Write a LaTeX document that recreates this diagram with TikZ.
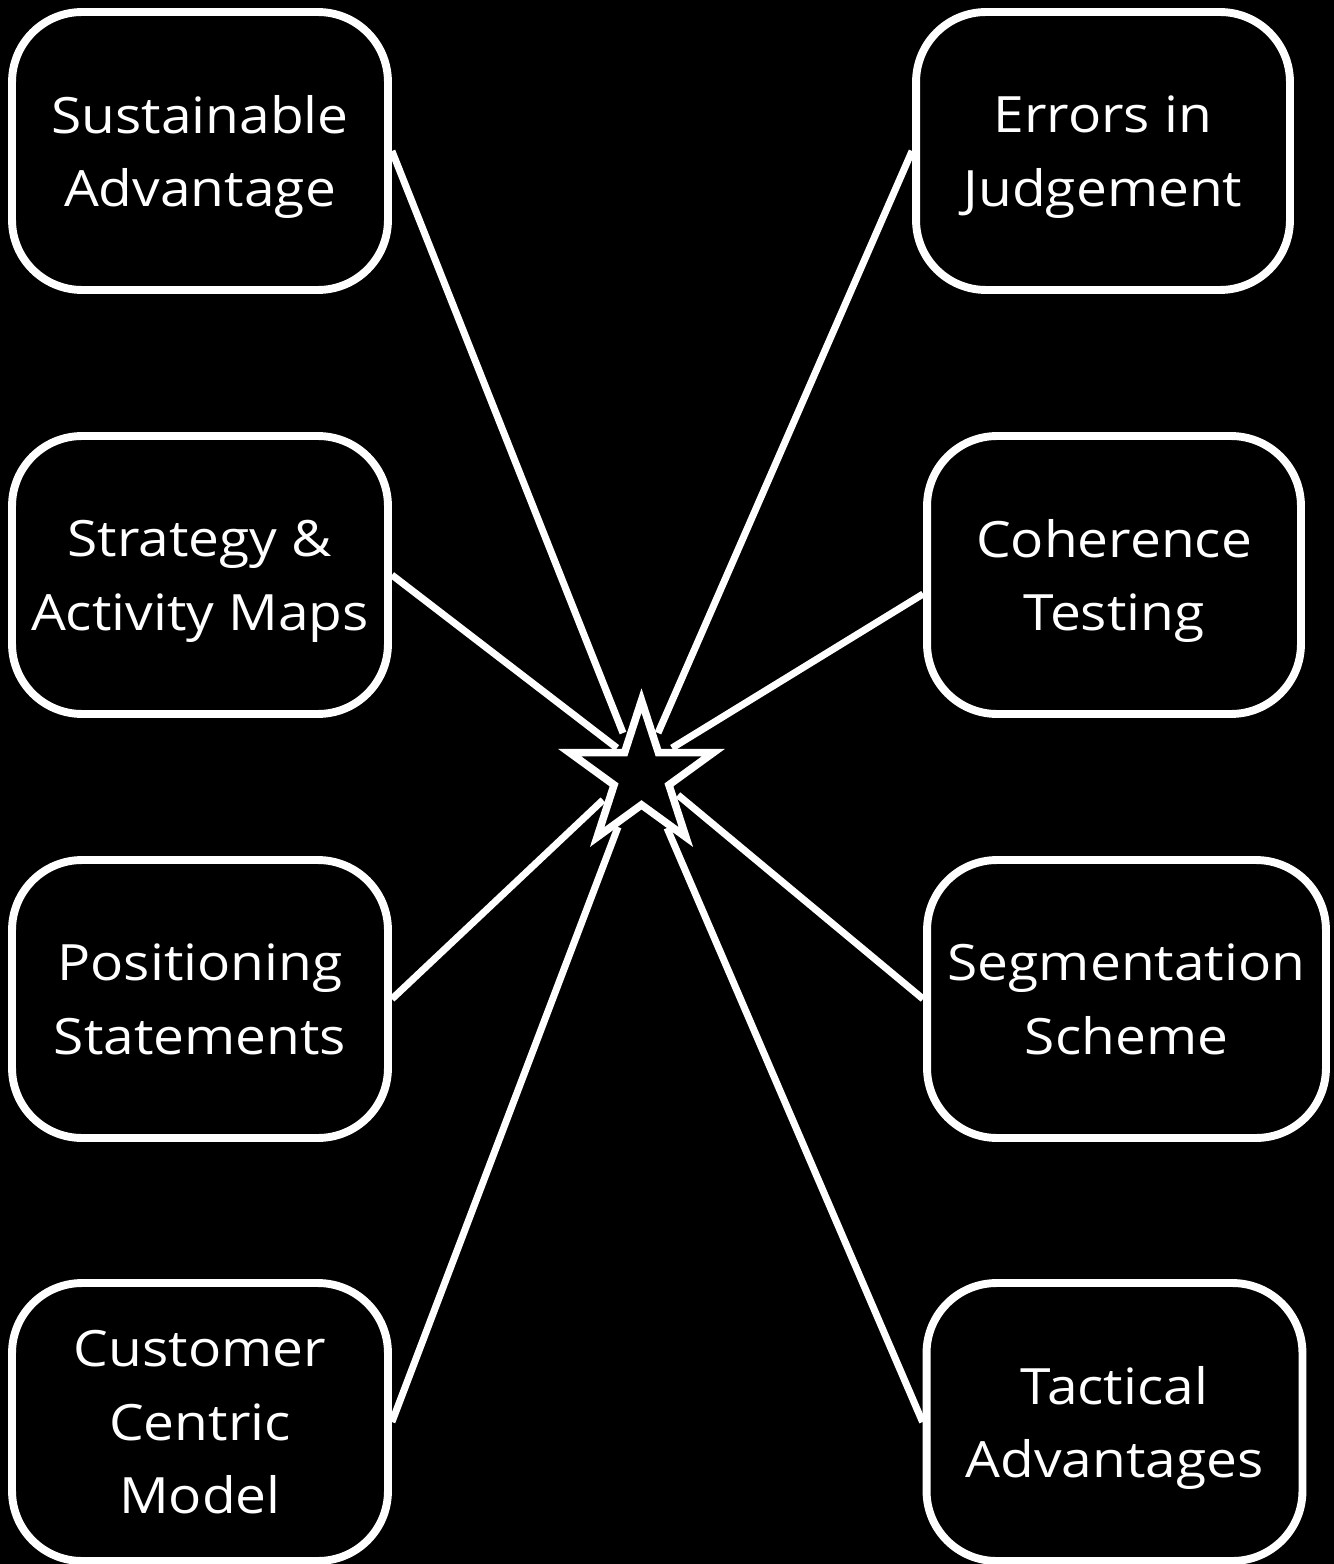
\documentclass[tikz,border=0pt]{standalone}
\usepackage{fontspec}
\setmainfont{Open Sans}[FakeStretch=1.1]
\usetikzlibrary{shapes.geometric}

\tikzstyle{box}=[draw=white, line width=4.5pt, rounded corners=1.4cm, text=white, align=center, minimum width=7.52cm, minimum height=5.56cm, inner sep=0pt, text depth=-1pt, font=\fontsize{28.5}{42}\selectfont]
\tikzstyle{spoke}=[white, line width=4pt]

\begin{document}
\begin{tikzpicture}[x=0.02cm, y=-0.02cm]
        \useasboundingbox (0,0) rectangle (1334,1564);
        \fill[black] (0,0) rectangle (1334,1564);

        \node[box] (left1) at (200,151) {Sustainable\\Advantage};
        \node[box] (left2) at (200,575) {Strategy \&\\Activity Maps};
        \node[box] (left3) at (200,999) {Positioning\\Statements};
        \node[box] (left4) at (200,1422) {Customer\\Centric\\Model};
        \node[box, minimum width=7.48cm] (right1) at (1103,151) {Errors in\\Judgement};
        \node[box, minimum width=7.48cm] (right2) at (1114,575) {Coherence\\Testing};
        \node[box, minimum width=7.98cm] (right3) at (1126.5,999) {Segmentation\\Scheme};
        \node[box] (right4) at (1114.5,1422) {Tactical\\Advantages};

        \node[star, star points=5, star point ratio=2.618, minimum size=3.02cm, inner sep=0pt, draw=white, line width=4.3pt, line join=miter] (hub) at (641.5,776) {};

        \coordinate (tip1) at (623,733);
        \coordinate (tip2) at (617,748);
        \coordinate (tip3) at (603,800);
        \coordinate (tip4) at (618,827);
        \coordinate (tip5) at (658,733);
        \coordinate (tip6) at (672,748);
        \coordinate (tip7) at (678,795);
        \coordinate (tip8) at (667,828);

        \draw[spoke] (left1.east) -- (tip1);
        \draw[spoke] (left2.east) -- (tip2);
        \draw[spoke] (left3.east) -- (tip3);
        \draw[spoke] (left4.east) -- (tip4);
        \draw[spoke] (right1.west) -- (tip5);
        \draw[spoke] ([yshift=-0.38cm]right2.west) -- (tip6);
        \draw[spoke] (right3.west) -- (tip7);
        \draw[spoke] (right4.west) -- (tip8);

      \end{tikzpicture}
\end{document}
